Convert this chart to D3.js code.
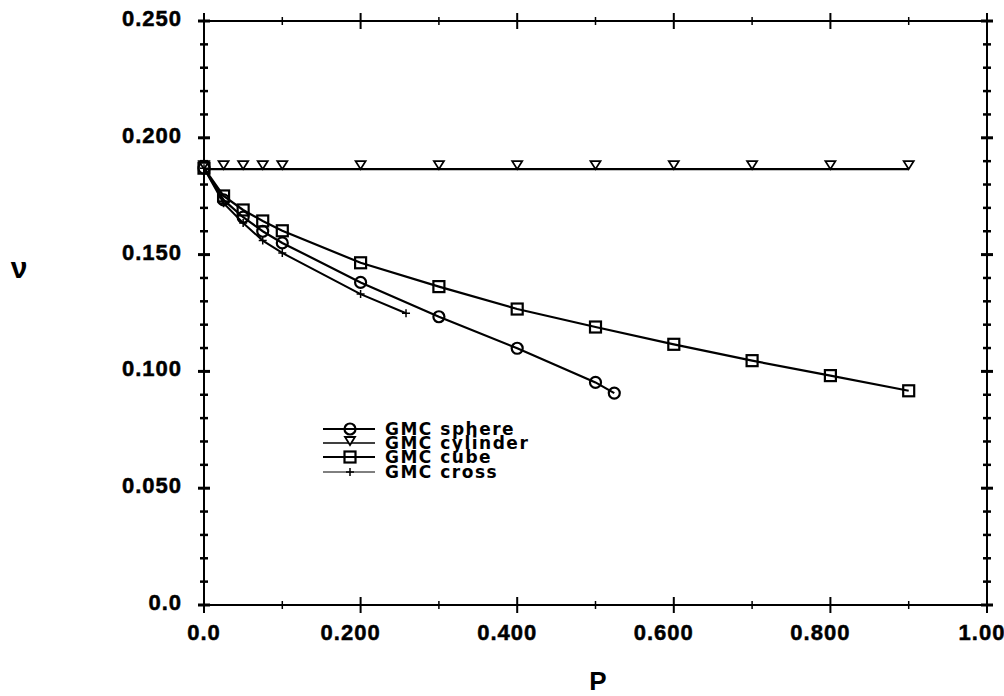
<!DOCTYPE html>
<html>
<head>
<meta charset="utf-8">
<script src="https://cdn.jsdelivr.net/npm/d3@7"></script>
<style>
  html, body { margin: 0; padding: 0; background: #fff; }
  svg { display: block; }
  .tick-label { font-family: "Liberation Sans", Arial, sans-serif; font-weight: bold; font-size: 22px; letter-spacing: 1px; fill: #000; stroke: #000; stroke-width: 0.5px; }
  .legend-label { font-family: "DejaVu Sans", "Liberation Sans", sans-serif; font-weight: bold; font-size: 17px; letter-spacing: 1.5px; fill: #000; }
  .axis-title { font-family: "Liberation Sans", Arial, sans-serif; font-weight: bold; fill: #000; }
</style>
</head>
<body>
<svg id="chart" width="1004" height="696"></svg>
<script>
// ---------------- data ----------------
const sphereP   = [0, 0.025, 0.05, 0.075, 0.1, 0.2, 0.3, 0.4, 0.5, 0.524];
const sphereNu  = [0.1870, 0.1734, 0.1660, 0.1600, 0.1550, 0.1381, 0.1234, 0.1099, 0.0953, 0.0907];

const cylinderP  = [0, 0.025, 0.05, 0.075, 0.1, 0.2, 0.3, 0.4, 0.5, 0.6, 0.7, 0.8, 0.9];
const cylinderNu = [0.1866, 0.1866, 0.1866, 0.1866, 0.1866, 0.1866, 0.1866, 0.1866, 0.1866, 0.1866, 0.1866, 0.1866, 0.1866];

const cubeP   = [0, 0.025, 0.05, 0.075, 0.1, 0.2, 0.3, 0.4, 0.5, 0.6, 0.7, 0.8, 0.9];
const cubeNu  = [0.1870, 0.1751, 0.1691, 0.1644, 0.1602, 0.1465, 0.1363, 0.1267, 0.1190, 0.1116, 0.1046, 0.0982, 0.0917];

const crossP  = [0, 0.025, 0.05, 0.075, 0.1, 0.2, 0.258];
const crossNu = [0.1870, 0.1720, 0.1635, 0.1560, 0.1507, 0.1331, 0.1249];

const seriesNames = ["GMC sphere", "GMC cylinder", "GMC cube", "GMC cross"];

const xTickValues = [0, 0.2, 0.4, 0.6, 0.8, 1.0];
const xTickLabels = ["0.0", "0.200", "0.400", "0.600", "0.800", "1.00"];
const yTickValues = [0, 0.05, 0.1, 0.15, 0.2, 0.25];
const yTickLabels = ["0.0", "0.050", "0.100", "0.150", "0.200", "0.250"];
const xMinorStep = 0.1;
const yMinorStep = 0.01;

// ---------------- layout ----------------
const svg = d3.select("#chart");
const L = 204, R = 987, T = 21, B = 605;
const x = d3.scaleLinear().domain([0, 1]).range([L, R]);
const y = d3.scaleLinear().domain([0, 0.25]).range([B, T]);

// frame
svg.append("rect").attr("x", L).attr("y", T).attr("width", R - L).attr("height", B - T)
  .attr("fill", "none").attr("stroke", "#000").attr("stroke-width", 2);

// ticks
const g = svg.append("g").attr("stroke", "#000");
const xMinor = d3.range(0, 1.0001, xMinorStep).filter(v => !xTickValues.some(t => Math.abs(t - v) < 1e-6));
const yMinor = d3.range(0, 0.25001, yMinorStep).filter(v => !yTickValues.some(t => Math.abs(t - v) < 1e-6));

[B, T].forEach(yy => {
  g.selectAll(null).data(xMinor).enter().append("line")
    .attr("x1", d => x(d)).attr("x2", d => x(d)).attr("y1", yy - 4).attr("y2", yy + 4).attr("stroke-width", 1.5);
  g.selectAll(null).data(xTickValues).enter().append("line")
    .attr("x1", d => x(d)).attr("x2", d => x(d)).attr("y1", yy - 8).attr("y2", yy + 8).attr("stroke-width", 2);
});
[L, R].forEach(xx => {
  g.selectAll(null).data(yMinor).enter().append("line")
    .attr("x1", xx - 4).attr("x2", xx + 4).attr("y1", d => y(d)).attr("y2", d => y(d)).attr("stroke-width", 2.5);
  g.selectAll(null).data(yTickValues).enter().append("line")
    .attr("x1", xx - 6).attr("x2", xx + 6).attr("y1", d => y(d)).attr("y2", d => y(d)).attr("stroke-width", 3);
});

// tick labels
svg.selectAll(null).data(xTickValues).enter().append("text")
  .attr("class", "tick-label")
  .attr("x", d => x(d)).attr("y", 640)
  .attr("dx", (d, i) => -(xTickLabels[i].length - 3) * 5)
  .attr("text-anchor", "middle")
  .text((d, i) => xTickLabels[i]);

svg.selectAll(null).data(yTickValues).enter().append("text")
  .attr("class", "tick-label")
  .attr("x", 182).attr("y", d => y(d) + 5)
  .attr("text-anchor", "end")
  .text((d, i) => yTickLabels[i]);

// axis titles
svg.append("text").attr("class", "axis-title").attr("x", 598).attr("y", 690)
  .attr("text-anchor", "middle").attr("font-size", 26).text("P");
svg.append("text").attr("class", "axis-title").attr("x", 19).attr("y", 278)
  .attr("text-anchor", "middle").attr("font-size", 30).text("ν");

// ---------------- markers ----------------
function drawMarker(sel, type, cx, cy) {
  if (type === "circle") {
    sel.append("circle").attr("cx", cx).attr("cy", cy).attr("r", 5.5)
      .attr("fill", "none").attr("stroke", "#000").attr("stroke-width", 2.2);
  } else if (type === "square") {
    sel.append("rect").attr("x", cx - 5.5).attr("y", cy - 5.5).attr("width", 11).attr("height", 11)
      .attr("fill", "none").attr("stroke", "#000").attr("stroke-width", 2.2);
  } else if (type === "triangle") {
    sel.append("path").attr("d", `M${cx - 5},${cy - 8}L${cx + 5},${cy - 8}L${cx},${cy}Z`)
      .attr("fill", "#fff").attr("stroke", "#000").attr("stroke-width", 1.8);
  } else if (type === "cross") {
    sel.append("path").attr("d", `M${cx - 4},${cy}L${cx + 4},${cy}M${cx},${cy - 4}L${cx},${cy + 4}`)
      .attr("fill", "none").attr("stroke", "#000").attr("stroke-width", 1.5);
  }
}

const series = [
  { name: seriesNames[0], P: sphereP,   nu: sphereNu,   marker: "circle",   lw: 2.2, legendLw: 2.2 },
  { name: seriesNames[1], P: cylinderP, nu: cylinderNu, marker: "triangle", lw: 2.2, legendLw: 1.5 },
  { name: seriesNames[2], P: cubeP,     nu: cubeNu,     marker: "square",   lw: 2.2, legendLw: 2.2 },
  { name: seriesNames[3], P: crossP,    nu: crossNu,    marker: "cross",    lw: 2,   legendLw: 1 }
];

const line = d3.line().x(d => x(d[0])).y(d => y(d[1]));
const plot = svg.append("g");
series.forEach(s => {
  const pts = s.P.map((p, i) => [p, s.nu[i]]);
  plot.append("path").attr("d", line(pts)).attr("fill", "none")
    .attr("stroke", "#000").attr("stroke-width", s.lw);
});
series.forEach(s => {
  const mg = plot.append("g");
  s.P.forEach((p, i) => drawMarker(mg, s.marker, x(p), y(s.nu[i])));
});

// ---------------- legend ----------------
const legendRowsY = [429, 443, 457, 472];
const lg = svg.append("g");
series.forEach((s, i) => {
  const ly = legendRowsY[i];
  lg.append("line").attr("x1", 323).attr("x2", 375).attr("y1", ly).attr("y2", ly)
    .attr("stroke", "#000").attr("stroke-width", s.legendLw);
  drawMarker(lg, s.marker, 350, s.marker === "triangle" ? ly + 2 : ly);
  lg.append("text").attr("class", "legend-label").attr("x", 385).attr("y", ly + 6).text(s.name);
});
</script>
</body>
</html>
